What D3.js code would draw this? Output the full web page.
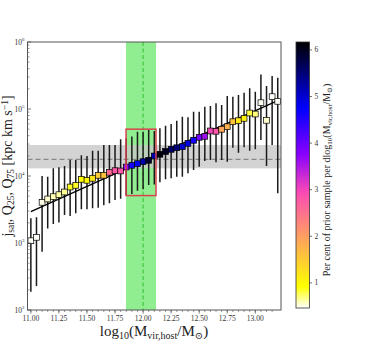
<!DOCTYPE html>
<html>
<head>
<meta charset="utf-8">
<script src="https://cdn.jsdelivr.net/npm/d3@7"></script>
<style>
  body { margin: 0; background: #fff; }
  svg text { font-family: "Liberation Serif", "DejaVu Serif", serif; }
</style>
</head>
<body>
<div id="chart"></div>
<script>
// bin centres in log10(Mvir,host/Msun)
const mass = d3.range(45).map(i => +(11.0 + 0.05 * i).toFixed(2));
// median j_sat per bin
const jMed = [1080, 1216, 4050, 4540, 4910, 5260, 5770, 6850, 7260, 8930,
  8630, 9250, 10240, 10240, 11360, 12000, 11880, 13620, 14450, 15280,
  16360, 17150, 19900, 21100, 23200, 25000, 26400, 27400, 30700, 34100,
  37800, 39100, 47000, 46500, 49800, 54400, 64600, 66900, 72600, 87100,
  84100, 124000, 67800, 152700, 130200];
// 25th / 75th percentiles
const jLo = [188, 228, 741, 1640, 1920, 2020, 2620, 2530, 2770, 3180,
  3180, 3300, 3370, 3660, 3920, 4390, 4590, 5200, 5390, 6040,
  6330, 7340, 7470, 8060, 8960, 9240, 9770, 9770, 10970, 12300,
  13780, 16760, 17330, 16000, 17330, 16330, 26400, 22300, 26800, 23900,
  25000, 34400, 14100, 29000, 5520];
const jHi = [2340, 2420, 10000, 9770, 13040, 13500, 14100, 17330, 17330, 20400,
  19900, 23900, 23900, 29000, 29000, 29000, 35300, 36600, 38700, 45800,
  45800, 48600, 47000, 51600, 56100, 59700, 66800, 76700, 75200, 91200,
  91200, 108200, 110900, 121600, 114800, 156200, 152700, 161900, 175200, 203600,
  181300, 326000, 220300, 311000, 293000];
// per cent of prior sample per dex (colour)
const prior = [0.47, 0.47, 0.5, 0.55, 0.6, 0.62, 0.65, 0.85, 0.85, 0.95,
  1.0, 1.2, 1.5, 1.6, 2.6, 2.8, 2.8, 3.7, 4.6, 4.8,
  5.2, 5.9, 5.2, 6.1, 6.0, 5.6, 5.5, 5.0, 4.9, 4.6,
  3.9, 3.6, 3.0, 2.8, 1.9, 1.8, 1.6, 1.2, 1.05, 0.8,
  0.7, 0.48, 0.55, 0.47, 0.47];

const fitX = [11.0, 13.2], fitLog = [3.467, 5.124];
const jObs = 17700, jObsBand = [13000, 29000];
const mwMass = 12.0, mwBand = [11.848, 12.115];
const boxJ = [5100, 50000];
const priorRange = [0.46, 6.17];
const cbTicks = [1, 2, 3, 4, 5, 6];
const xTicks = d3.range(9).map(i => 11 + 0.25 * i);

const W = 384, H = 348;
const svg = d3.select("#chart").append("svg").attr("width", W).attr("height", H);

const x = d3.scaleLinear().domain([10.97, 13.229]).range([27.5, 281]);
const y = d3.scaleLog().domain([100, 1e6]).range([310, 42]);
const x0 = x.range()[0], x1 = x.range()[1], yT = 42, yB = 310;

// gnuplot2_r colormap
function gnuplot2(s) {
  const c = v => Math.max(0, Math.min(1, v));
  const r = c(s / 0.32 - 0.78125), g = c(2 * s - 0.84);
  const b = c(s < 0.25 ? 4 * s : s < 0.92 ? -2 * s + 1.84 : s / 0.08 - 11.5);
  return d3.rgb(r * 255, g * 255, b * 255).formatHex();
}
const cnorm = d3.scaleLinear().domain(priorRange).range([0, 1]).clamp(true);
const clr = v => gnuplot2(1 - cnorm(v));

svg.append("defs").append("clipPath").attr("id", "clip")
  .append("rect").attr("x", x0).attr("y", yT).attr("width", x1 - x0).attr("height", yB - yT);
const plot = svg.append("g").attr("clip-path", "url(#clip)");

// bands
plot.append("rect").attr("x", x(mwBand[0])).attr("y", yT)
  .attr("width", x(mwBand[1]) - x(mwBand[0])).attr("height", yB - yT).attr("fill", "#90ee90");
plot.append("rect").attr("x", x0).attr("y", y(jObsBand[1]))
  .attr("width", x1 - x0).attr("height", y(jObsBand[0]) - y(jObsBand[1]))
  .attr("fill", "#c8c8c8").attr("opacity", 0.8);
plot.append("line").attr("x1", x(mwMass)).attr("x2", x(mwMass)).attr("y1", yT).attr("y2", yB)
  .attr("stroke", "#2fbf2f").attr("stroke-width", 1).attr("stroke-dasharray", "4,2.5");
plot.append("line").attr("x1", x0).attr("x2", x1).attr("y1", y(jObs)).attr("y2", y(jObs))
  .attr("stroke", "#888").attr("stroke-width", 1.2).attr("stroke-dasharray", "5,3");

// error bars
plot.selectAll(".err").data(mass).enter().append("line")
  .attr("x1", d => x(d)).attr("x2", d => x(d))
  .attr("y1", (d, i) => y(jLo[i])).attr("y2", (d, i) => y(jHi[i]))
  .attr("stroke", "#1a1a1a").attr("stroke-width", 1.5);

// fit line
plot.append("line")
  .attr("x1", x(fitX[0])).attr("y1", y(Math.pow(10, fitLog[0])))
  .attr("x2", x(fitX[1])).attr("y2", y(Math.pow(10, fitLog[1])))
  .attr("stroke", "#000").attr("stroke-width", 1.3);

// markers
const ms = 5.8;
plot.selectAll(".pt").data(mass).enter().append("rect")
  .attr("x", d => x(d) - ms / 2).attr("y", (d, i) => y(jMed[i]) - ms / 2)
  .attr("width", ms).attr("height", ms)
  .attr("fill", (d, i) => clr(prior[i])).attr("stroke", "#000").attr("stroke-width", 0.7);

// red box
plot.append("rect").attr("x", x(mwBand[0])).attr("y", y(boxJ[1]))
  .attr("width", x(mwBand[1]) - x(mwBand[0])).attr("height", y(boxJ[0]) - y(boxJ[1]))
  .attr("fill", "none").attr("stroke", "#d9434f").attr("stroke-width", 1.5);

// frame
svg.append("rect").attr("x", x0).attr("y", yT).attr("width", x1 - x0).attr("height", yB - yT)
  .attr("fill", "none").attr("stroke", "#555").attr("stroke-width", 1);

// x axis
const xa = svg.append("g");
d3.range(44).map(i => 11 + 0.05 * i).forEach(v => {
  xa.append("line").attr("x1", x(v)).attr("x2", x(v)).attr("y1", yB).attr("y2", yB + 2)
    .attr("stroke", "#555").attr("stroke-width", 0.6);
});
xTicks.forEach(v => {
  xa.append("line").attr("x1", x(v)).attr("x2", x(v)).attr("y1", yB).attr("y2", yB + 3.5)
    .attr("stroke", "#555").attr("stroke-width", 0.8);
  xa.append("text").attr("x", x(v)).attr("y", yB + 11).attr("text-anchor", "middle")
    .attr("font-size", 7.5).attr("fill", "#333").text(d3.format(".2f")(v));
});

// y axis
const ya = svg.append("g");
for (let k = 2; k < 6; k++) {
  for (let m = 2; m < 10; m++) {
    const v = m * Math.pow(10, k);
    ya.append("line").attr("x1", x0).attr("x2", x0 + 2).attr("y1", y(v)).attr("y2", y(v))
      .attr("stroke", "#555").attr("stroke-width", 0.6);
  }
}
[2, 3, 4, 5, 6].forEach(k => {
  const yy = y(Math.pow(10, k));
  ya.append("line").attr("x1", x0).attr("x2", x0 + 3.5).attr("y1", yy).attr("y2", yy)
    .attr("stroke", "#555").attr("stroke-width", 0.8);
  const t = ya.append("text").attr("x", x0 - 3).attr("y", yy + 2.5).attr("text-anchor", "end")
    .attr("font-size", 7.5).attr("fill", "#333");
  t.append("tspan").text("10");
  t.append("tspan").attr("font-size", 5).attr("dy", -3.5).text(k);
});

// axis labels
const xl = svg.append("text").attr("x", 154).attr("y", 336).attr("text-anchor", "middle")
  .attr("font-size", 15).attr("fill", "#222");
xl.append("tspan").text("log");
xl.append("tspan").attr("font-size", 10).attr("dy", 3).text("10");
xl.append("tspan").attr("dy", -3).text("(M");
xl.append("tspan").attr("font-size", 10).attr("dy", 3).text("vir,host");
xl.append("tspan").attr("dy", -3).text("/M");
xl.append("tspan").attr("font-size", 10).attr("dy", 3).text("⊙");
xl.append("tspan").attr("dy", -3).text(")");

const yl = svg.append("text").attr("transform", "translate(12,166) rotate(-90)")
  .attr("text-anchor", "middle").attr("font-size", 14).attr("fill", "#222");
yl.append("tspan").text("j");
yl.append("tspan").attr("font-size", 9.5).attr("dy", 2.3).text("sat");
yl.append("tspan").attr("dy", -2.3).text(", Q");
yl.append("tspan").attr("font-size", 9.5).attr("dy", 2.3).text("25");
yl.append("tspan").attr("dy", -2.3).text(", Q");
yl.append("tspan").attr("font-size", 9.5).attr("dy", 2.3).text("75");
yl.append("tspan").attr("dy", -2.3).text(" [kpc km s");
yl.append("tspan").attr("font-size", 9.5).attr("dy", -4.5).text("−1");
yl.append("tspan").attr("dy", 4.5).text("]");

// colorbar
const cb = { x: 296, y: 42, w: 13.5, h: 266 };
const cy = d3.scaleLinear().domain(priorRange).range([cb.y + cb.h, cb.y]);
const grad = svg.select("defs").append("linearGradient").attr("id", "cgrad")
  .attr("x1", 0).attr("y1", 1).attr("x2", 0).attr("y2", 0);
d3.range(0, 1.0001, 0.02).forEach(t => {
  grad.append("stop").attr("offset", t).attr("stop-color", gnuplot2(1 - t));
});
svg.append("rect").attr("x", cb.x).attr("y", cb.y).attr("width", cb.w).attr("height", cb.h)
  .attr("fill", "url(#cgrad)").attr("stroke", "#333").attr("stroke-width", 0.8);
cbTicks.forEach(v => {
  svg.append("line").attr("x1", cb.x + cb.w).attr("x2", cb.x + cb.w + 2.5)
    .attr("y1", cy(v)).attr("y2", cy(v)).attr("stroke", "#333").attr("stroke-width", 0.7);
  svg.append("text").attr("x", cb.x + cb.w + 5).attr("y", cy(v) + 2.5)
    .attr("font-size", 7.5).attr("fill", "#333").text(v);
});
const cl = svg.append("text").attr("transform", "translate(330,180) rotate(-90)")
  .attr("text-anchor", "middle").attr("font-size", 10).attr("fill", "#222");
cl.append("tspan").text("Per cent of prior sample per dlog");
cl.append("tspan").attr("font-size", 7).attr("dy", 2).text("10");
cl.append("tspan").attr("dy", -2).text("(M");
cl.append("tspan").attr("font-size", 7).attr("dy", 2).text("vir,host");
cl.append("tspan").attr("dy", -2).text("/M");
cl.append("tspan").attr("font-size", 7).attr("dy", 2).text("⊙");
cl.append("tspan").attr("dy", -2).text(")");
</script>
</body>
</html>
